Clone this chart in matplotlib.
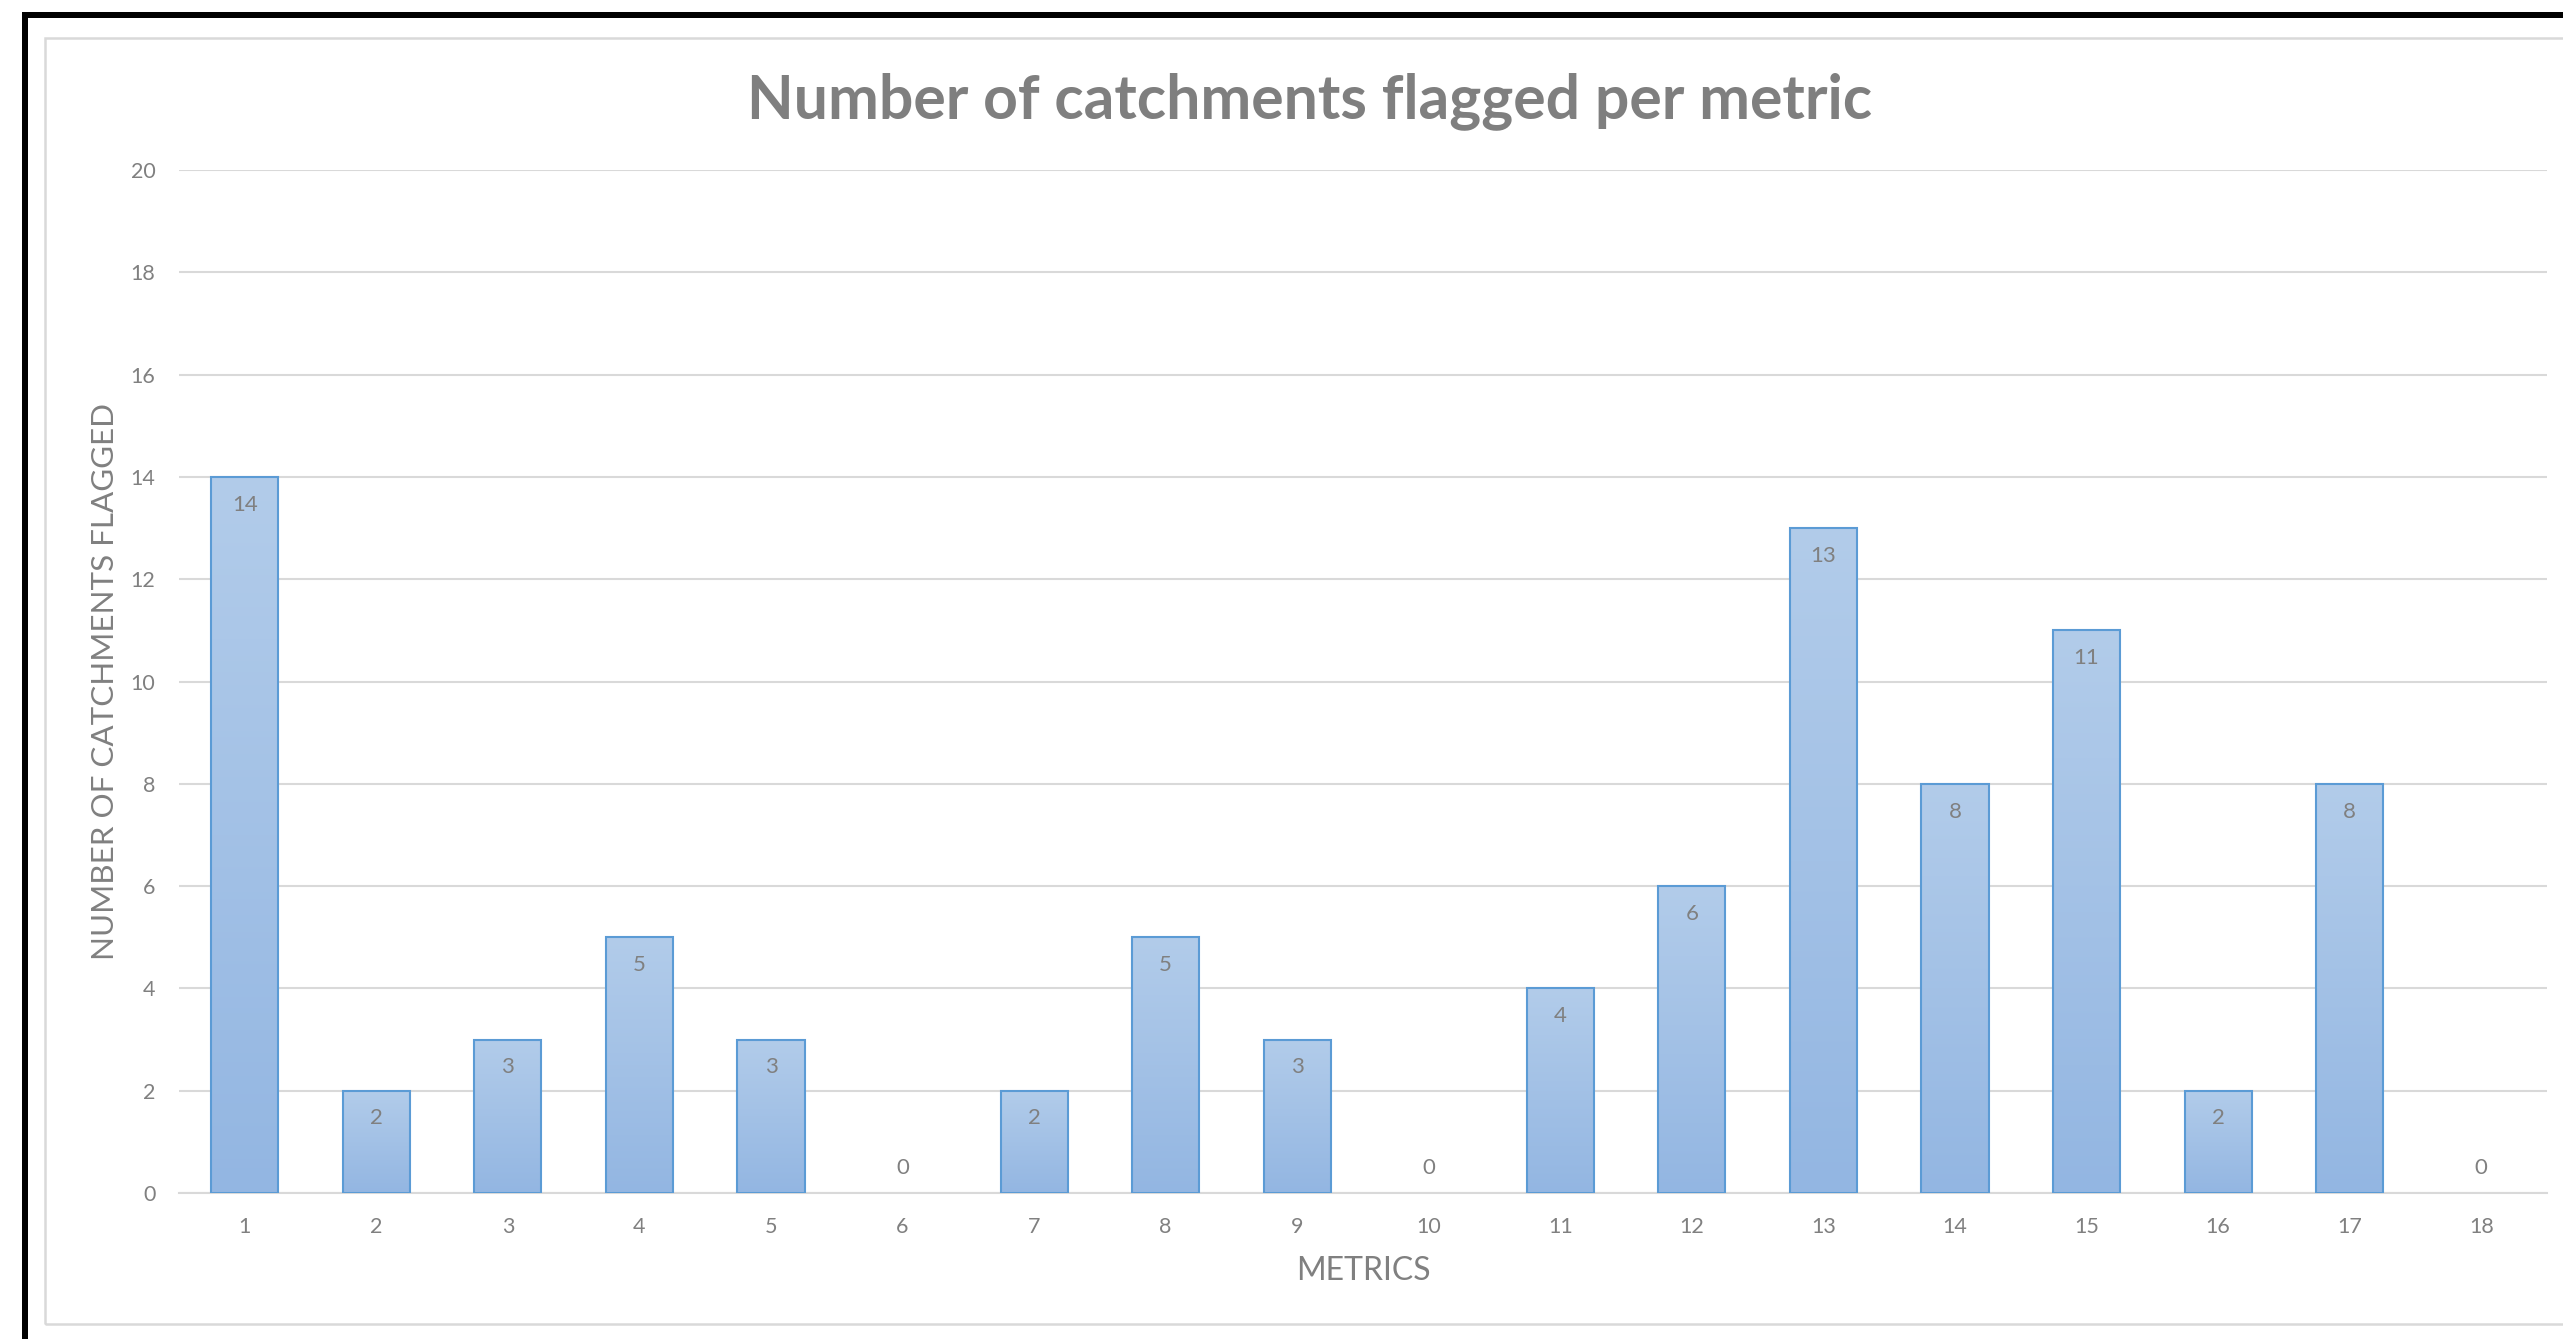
import numpy as np
import matplotlib
matplotlib.use("Agg")
import matplotlib.pyplot as plt
from matplotlib.patches import Rectangle
from matplotlib.colors import LinearSegmentedColormap

# chart data
metrics = [str(i) for i in range(1, 19)]
flagged = [14, 2, 3, 5, 3, 0, 2, 5, 3, 0, 4, 6, 13, 8, 11, 2, 8, 0]
y_ticks = [0, 2, 4, 6, 8, 10, 12, 14, 16, 18, 20]

title = "Number of catchments flagged per metric"
x_title = "METRICS"
y_title = "NUMBER OF CATCHMENTS FLAGGED"

plt.rcParams['font.family'] = ['Lato', 'DejaVu Sans']
txt_col = '#808080'
W, H = 2563, 1339

fig = plt.figure(figsize=(W / 100, H / 100), dpi=100)
ax = fig.add_axes([179 / W, 1 - 1193 / H, (2547 - 179) / W, (1193 - 170) / H])

x = np.arange(len(metrics))
bars = ax.bar(x, flagged, width=0.51, color='none', edgecolor='#5B9BD5',
              linewidth=1.5, zorder=3)

# vertical gradient fill for each bar
grad = LinearSegmentedColormap.from_list('g', ['#93B6E2', '#B2CCEA'])
for b in bars:
    h = b.get_height()
    if h <= 0:
        b.set_linewidth(0)
        continue
    bx, bw = b.get_x(), b.get_width()
    im = ax.imshow(np.linspace(0, 1, 256).reshape(-1, 1), cmap=grad,
                   extent=[bx, bx + bw, 0, h], origin='lower',
                   aspect='auto', zorder=2)
    im.set_clip_path(b)

# data labels
for xi, v in zip(x, flagged):
    off = -20 if v > 0 else 18
    ax.annotate(str(v), (xi, v), xytext=(0, off), textcoords='offset points',
                ha='center', va='center', fontsize=16, color=txt_col)

ax.set_xlim(-0.5, len(metrics) - 0.5)
ax.set_ylim(0, 20)
ax.set_yticks(y_ticks)
ax.set_xticks(x)
ax.set_xticklabels(metrics)
ax.tick_params(length=0, labelsize=15.5, labelcolor=txt_col)
ax.tick_params(axis='y', pad=17)
ax.tick_params(axis='x', pad=17)
ax.grid(axis='y', color='#D9D9D9', linewidth=1.5, zorder=0)
ax.set_axisbelow(True)
for s in ['top', 'right', 'left']:
    ax.spines[s].set_visible(False)
ax.spines['bottom'].set_color('#D9D9D9')
ax.spines['bottom'].set_linewidth(1.5)

ax.set_xlabel(x_title, fontsize=23, color=txt_col, labelpad=14)
ax.set_ylabel(y_title, fontsize=22.6, color=txt_col, labelpad=8)

fig.text(1310 / W, 1 - 101 / H, title, ha='center', va='center',
         fontsize=43.7, fontweight='bold', color='#7F7F7F')

# chart area frame and outer black border
fig.add_artist(Rectangle((45 / W, 1 - 1324 / H), 1.0, (1324 - 38) / H,
                         transform=fig.transFigure, fill=False,
                         edgecolor='#D9D9D9', linewidth=1.8))
fig.add_artist(Rectangle((22 / W, 0), 6 / W, 1 - 12 / H,
                         transform=fig.transFigure, color='black', lw=0))
fig.add_artist(Rectangle((22 / W, 1 - 18 / H), 1.0, 6 / H,
                         transform=fig.transFigure, color='black', lw=0))

fig.savefig('out.png', dpi=100)
